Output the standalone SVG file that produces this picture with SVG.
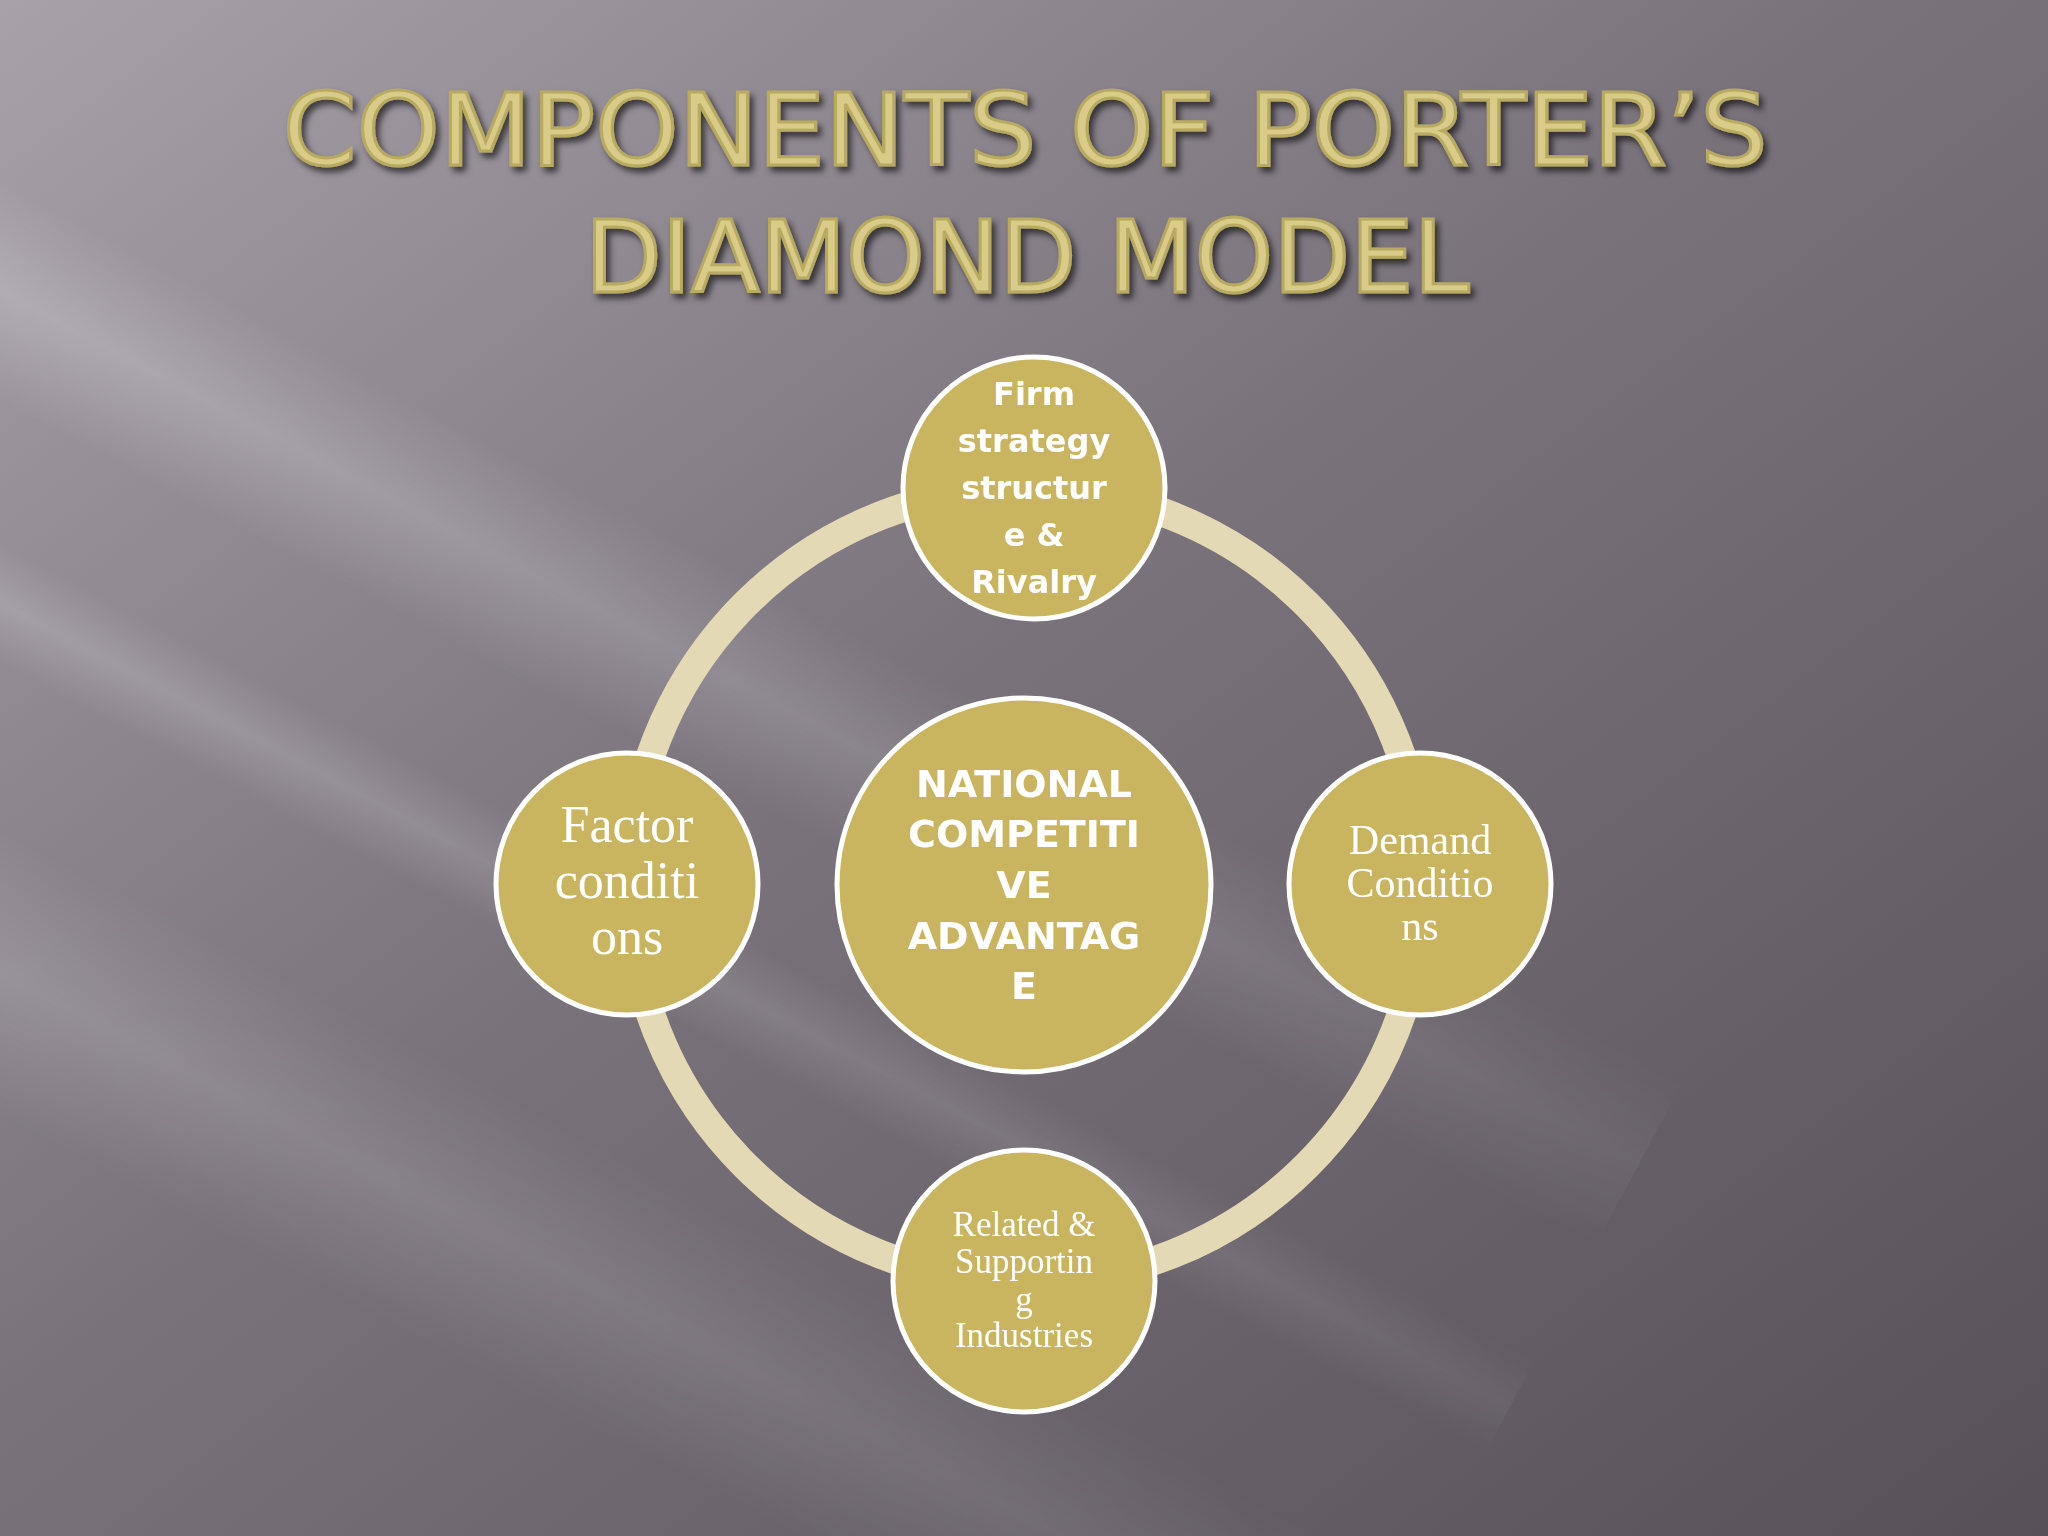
<svg xmlns="http://www.w3.org/2000/svg" width="2048" height="1536" viewBox="0 0 2048 1536">
<defs>
<linearGradient id="bg" x1="0" y1="0" x2="1" y2="1">
<stop offset="0" stop-color="#a8a1aa"/><stop offset="0.45" stop-color="#7a737c"/><stop offset="1" stop-color="#575058"/>
</linearGradient>
<linearGradient id="ray" x1="0" y1="0" x2="0" y2="1">
<stop offset="0" stop-color="#fff" stop-opacity="0"/><stop offset="0.5" stop-color="#fff" stop-opacity="0.2"/><stop offset="1" stop-color="#fff" stop-opacity="0"/>
</linearGradient>
<linearGradient id="fade" x1="0" y1="0" x2="1" y2="0">
<stop offset="0" stop-color="#fff" stop-opacity="1"/><stop offset="0.6" stop-color="#fff" stop-opacity="0.5"/><stop offset="1" stop-color="#fff" stop-opacity="0"/>
</linearGradient>
<mask id="m"><rect width="2048" height="1536" fill="url(#fade)"/></mask>
<filter id="sh"><feDropShadow dx="4" dy="5" stdDeviation="3" flood-color="#000" flood-opacity="0.6"/></filter>
</defs>
<style>
.node{fill:#c9b560;stroke:#fff;stroke-width:5}
.sans{font-family:"DejaVu Sans",Verdana,sans-serif;font-weight:bold;fill:#fff;text-anchor:middle}
.serif{font-family:"Liberation Serif","DejaVu Serif",serif;fill:#fff;text-anchor:middle}
.title{font-family:"DejaVu Sans",Verdana,sans-serif;fill:#d9cc88;text-anchor:middle;font-size:100px;stroke:#b8aa60;stroke-width:3}
</style>
<rect width="2048" height="1536" fill="url(#bg)"/>
<g mask="url(#m)">
<g transform="rotate(28 300 700)">
<rect x="-900" y="380" width="2600" height="200" fill="url(#ray)"/>
<rect x="-900" y="700" width="2600" height="110" fill="url(#ray)" opacity="0.8"/>
<rect x="-900" y="950" width="2600" height="260" fill="url(#ray)" opacity="0.7"/>
</g>
</g>
<g id="title" filter="url(#sh)">
<text class="title" x="1025" y="165" textLength="1485" lengthAdjust="spacingAndGlyphs">COMPONENTS OF PORTER’S</text>
<text class="title" x="1027" y="292">DIAMOND MODEL</text>
</g>
<g id="connectors">
<circle cx="1026" cy="885" r="397" fill="none" stroke="#e3d9b5" stroke-width="29"/>
</g>
<g id="center">
<circle class="node" cx="1024" cy="885" r="187"/>
<g class="sans" font-size="38">
<text x="1024" y="797">NATIONAL</text><text x="1024" y="847">COMPETITI</text><text x="1024" y="898">VE</text><text x="1024" y="949">ADVANTAG</text><text x="1024" y="999">E</text>
</g>
</g>
<g id="top">
<circle class="node" cx="1034" cy="488" r="131"/>
<g class="sans" font-size="32">
<text x="1034" y="405">Firm</text><text x="1034" y="452">strategy</text><text x="1034" y="499">structur</text><text x="1034" y="546">e &amp;</text><text x="1034" y="593">Rivalry</text>
</g>
</g>
<g id="left">
<circle class="node" cx="627" cy="884" r="131"/>
<g class="serif" font-size="52">
<text x="627" y="842">Factor</text><text x="627" y="898">conditi</text><text x="627" y="954">ons</text>
</g>
</g>
<g id="right">
<circle class="node" cx="1420" cy="884" r="131"/>
<g class="serif" font-size="42">
<text x="1420" y="854">Demand</text><text x="1420" y="897">Conditio</text><text x="1420" y="940">ns</text>
</g>
</g>
<g id="bottom">
<circle class="node" cx="1024" cy="1281" r="131"/>
<g class="serif" font-size="35">
<text x="1024" y="1236">Related &amp;</text><text x="1024" y="1273">Supportin</text><text x="1024" y="1311">g</text><text x="1024" y="1347">Industries</text>
</g>
</g>
</svg>
